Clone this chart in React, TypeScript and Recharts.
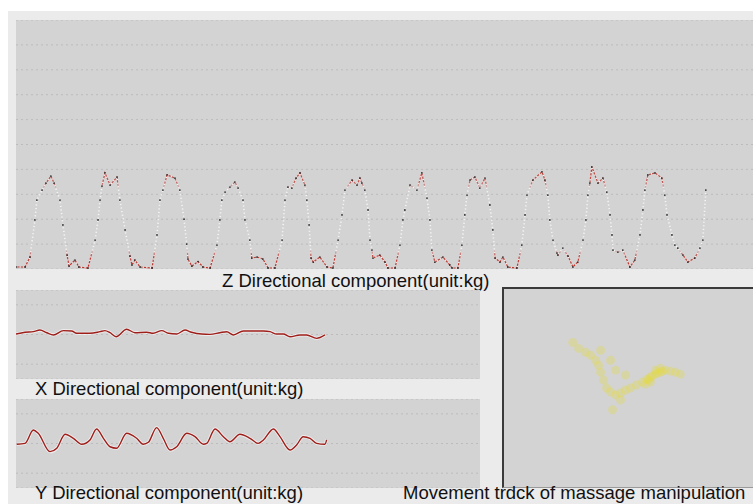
import React from "react";
import { LineChart, Line, XAxis, YAxis, ZAxis, CartesianGrid, ScatterChart, Scatter } from "recharts";

// Z directional component (time s, force kg)
const zTime = [
  0.0, 0.37, 0.57, 0.77, 0.85, 1.06, 1.22, 1.42, 1.55, 1.79, 1.91, 2.08, 2.16, 2.4, 2.56, 2.93,
  3.22, 3.34, 3.42, 3.5, 3.62, 3.83, 4.11, 4.23, 4.44, 4.64, 4.72, 4.84, 5.05, 5.54,
  5.74, 5.86, 5.98, 6.15, 6.47, 6.67, 6.84, 6.95, 7.0, 7.16, 7.41, 7.61, 7.9,
  8.18, 8.3, 8.38, 8.51, 8.71, 8.91, 9.04, 9.24, 9.32, 9.52, 9.6, 9.81, 10.05, 10.26, 10.54,
  10.83, 10.95, 11.07, 11.23, 11.4, 11.56, 11.76, 11.84, 11.93, 12.01, 12.1, 12.37, 12.66, 12.9,
  13.11, 13.27, 13.39, 13.68, 13.88, 14.0, 14.08, 14.2, 14.33, 14.41, 14.49, 14.53, 14.81, 15.02, 15.14, 15.43,
  15.63, 15.75, 15.83, 16.04, 16.32, 16.52, 16.73, 16.85, 16.93, 17.05, 17.38, 17.66, 17.75, 17.99,
  18.15, 18.27, 18.36, 18.48, 18.68, 18.88, 19.09, 19.29, 19.41, 19.5, 19.7, 19.82, 20.02, 20.39,
  20.59, 20.72, 20.8, 21.04, 21.41, 21.53, 21.65, 21.73, 21.86, 22.02, 22.06, 22.26, 22.47, 22.67, 22.87,
  23.08, 23.2, 23.28, 23.36, 23.44, 23.69, 23.89, 24.05, 24.18, 24.26, 24.3, 24.5, 24.7, 24.99, 25.19,
  25.4, 25.52, 25.6, 25.72, 26.01, 26.29, 26.41, 26.5, 26.7, 26.82, 26.94, 27.15, 27.35, 27.63, 27.84, 27.96, 28.08,
];
const zValue = [
  0.08, 0.08, 0.48, 1.97, 2.77, 3.17, 3.45, 3.73, 3.45, 2.77, 1.77, 0.56, 0.12, 0.36, 0.08, 0.04,
  1.16, 1.97, 2.77, 3.33, 3.86, 3.37, 3.69, 2.77, 1.57, 0.52, 0.16, 0.36, 0.08, 0.04,
  1.37, 2.77, 3.17, 3.78, 3.65, 3.17, 2.0, 1.0, 0.4, 0.12, 0.3, 0.08, 0.04,
  0.96, 1.97, 2.77, 3.09, 3.29, 3.49, 3.25, 2.77, 1.97, 1.16, 0.44, 0.48, 0.4, 0.04, 0.04,
  1.16, 2.77, 3.29, 3.25, 3.65, 3.86, 3.37, 2.77, 1.77, 0.44, 0.28, 0.48, 0.08, 0.04,
  1.16, 2.17, 3.17, 3.57, 3.37, 3.65, 3.45, 3.17, 2.37, 1.16, 0.76, 0.44, 0.56, 0.28, 0.04, 0.04,
  0.96, 1.97, 2.37, 3.37, 3.17, 3.86, 2.85, 1.97, 0.76, 0.28, 0.48, 0.16, 0.04, 0.04,
  0.96, 2.17, 2.97, 3.57, 3.69, 3.25, 3.65, 2.57, 1.57, 0.44, 0.28, 0.48, 0.08, 0.04,
  0.96, 2.17, 2.97, 3.57, 3.9, 3.57, 2.97, 1.97, 1.16, 0.64, 0.56, 0.84, 0.52, 0.08, 0.28,
  1.16, 1.97, 2.97, 3.45, 4.1, 3.45, 3.65, 3.09, 2.17, 1.37, 0.76, 0.68, 0.76, 0.08, 0.36,
  1.37, 2.37, 3.17, 3.78, 3.86, 3.65, 2.97, 2.17, 1.37, 0.96, 0.84, 0.56, 0.28, 0.44, 0.84, 1.16, 3.17,
];

// X directional component
const xTime = [
  0.0, 0.37, 0.71, 0.98, 1.26, 1.53, 1.94, 2.28, 2.48, 3.03, 3.44, 3.64, 3.85, 4.1, 4.53, 4.87,
  5.35, 5.62, 5.97, 6.24, 6.58, 6.92, 7.19, 7.6, 7.94, 8.35, 8.63, 8.9, 9.31, 10.13, 10.4, 10.68,
  10.95, 11.22, 11.63, 11.9, 12.31, 12.65,
];
const xValue = [
  0.03, 0.15, 0.19, 0.3, 0.12, -0.03, 0.26, 0.24, 0.08, 0.08, 0.19, 0.26, 0.12, -0.15, 0.35, 0.12,
  0.15, 0.08, 0.26, 0.08, 0.03, 0.3, 0.15, 0.03, 0.01, 0.12, 0.19, -0.03, 0.24, 0.24, 0.19, 0.03,
  0.03, -0.15, -0.03, -0.03, -0.26, -0.03,
];

// Y directional component
const yTime = [
  0.03, 0.37, 0.71, 0.91, 1.39, 1.67, 2.01, 2.35, 2.69, 3.03, 3.3, 3.58, 3.85, 4.12, 4.53, 4.94,
  5.21, 5.42, 5.76, 6.03, 6.31, 6.58, 6.99, 7.33, 7.67, 7.81, 8.15, 8.49, 8.76, 9.17, 9.58, 9.92,
  10.13, 10.54, 10.81, 11.22, 11.49, 11.76, 12.04, 12.31, 12.65, 12.72,
];
const yValue = [
  -0.05, 0.01, 0.91, 0.69, -0.55, -0.32, 0.62, 0.35, -0.05, 0.24, 0.98, 0.35, -0.22, -0.32, 0.69, 0.35,
  -0.05, 0.08, 1.07, 0.35, -0.44, -0.22, 0.69, 0.46, -0.05, 0.01, 0.98, 0.46, 0.12, 0.62, 0.35, 0.01,
  0.24, 0.98, 0.46, -0.44, -0.1, 0.46, 0.35, 0.01, -0.05, 0.24,
];

// Movement track (horizontal / vertical position)
const trackX = [
  27.6, 30, 32.8, 34.8, 36.8, 38, 38.8, 40, 41.2, 42.8, 44.8, 46.8, 48.8, 50.8, 53.2, 55.6, 58,
  58.8, 60.8, 62.8, 64.8, 66.8, 68.8, 70.8, 62.8, 60.8, 58.8, 56.8, 48.8, 44.8, 38.8, 42.8, 46.8, 43.6,
  59.5, 61.5, 57.5, 63.5,
];
const trackY = [
  73, 70, 68, 66.5, 64, 61.5, 58, 54, 50, 48, 46.5, 47.5, 49, 50, 51.5, 53, 54,
  55.5, 57, 58, 59, 58.5, 58, 57, 60, 59, 53, 52, 56.5, 59, 69, 64, 44, 39,
  56, 57.5, 54.5, 58.5,
];

const zTicks = [1, 2, 3, 4, 5, 6, 7, 8, 9];
const xyTicks = [-2, -1, 0, 1, 2];

const zData = zTime.map((t, i) => ({ t, v: zValue[i] }));
const xData = xTime.map((t, i) => ({ t, v: xValue[i] }));
const yData = yTime.map((t, i) => ({ t, v: yValue[i] }));
const trackData = trackX.map((x, i) => ({ x, y: trackY[i] }));

const FONT = '"Liberation Sans", Arial, sans-serif';
const PLOT_BG = "#d3d3d3";
const GRID = "#bcbcbc";

const labelStyle: React.CSSProperties = {
  position: "absolute",
  fontFamily: FONT,
  fontSize: 18.5,
  color: "#111",
  whiteSpace: "nowrap",
  lineHeight: "21px",
};

function SmallPanel({ data, top }: { data: { t: number; v: number }[]; top: number }) {
  return (
    <div style={{ position: "absolute", left: 16, top, width: 464, height: 89, background: PLOT_BG }}>
      <LineChart width={464} height={89} data={data} margin={{ top: 0, right: 0, bottom: 0, left: 0 }}>
        <XAxis dataKey="t" type="number" domain={[0, 19]} hide />
        <YAxis type="number" domain={[-3, 3]} ticks={xyTicks} hide />
        <CartesianGrid vertical={false} stroke={GRID} strokeDasharray="2 3" />
        <Line dataKey="v" type="monotone" stroke="#ffffff" strokeOpacity={0.6} strokeWidth={3.2} dot={false} isAnimationActive={false} />
        <Line dataKey="v" type="monotone" stroke="#9e1e1a" strokeWidth={1.4} dot={false} isAnimationActive={false} />
      </LineChart>
    </div>
  );
}

export default function App() {
  return (
    <div style={{ position: "absolute", left: 0, top: 0, width: 753, height: 504, background: "#ffffff", overflow: "hidden" }}>
      <div style={{ position: "absolute", left: 8, top: 11, width: 745, height: 493, background: "#ebebeb" }} />

      {/* Z panel */}
      <div style={{ position: "absolute", left: 16, top: 20, width: 737, height: 249, background: PLOT_BG }}>
        <LineChart width={737} height={249} data={zData} margin={{ top: 0, right: 0, bottom: 0, left: 0 }}>
          <defs>
            <linearGradient id="zRed" x1="0" y1="0" x2="0" y2="1">
              <stop offset="0" stopColor="#b8231c" stopOpacity={0.9} />
              <stop offset="0.15" stopColor="#b8231c" stopOpacity={0.7} />
              <stop offset="0.22" stopColor="#b8231c" stopOpacity={0} />
              <stop offset="0.82" stopColor="#b8231c" stopOpacity={0} />
              <stop offset="0.88" stopColor="#b8231c" stopOpacity={0.8} />
              <stop offset="1" stopColor="#b8231c" stopOpacity={0.9} />
            </linearGradient>
          </defs>
          <XAxis dataKey="t" type="number" domain={[0, 30]} hide />
          <YAxis type="number" domain={[0, 10]} ticks={zTicks} hide />
          <CartesianGrid vertical={false} stroke={GRID} strokeDasharray="2 3" />
          <Line dataKey="v" type="linear" stroke="url(#zRed)" strokeWidth={1.2} dot={false} isAnimationActive={false} />
          <Line
            dataKey="v"
            type="linear"
            stroke="#f7f3f3"
            strokeWidth={1.6}
            strokeDasharray="1.2 2.4"
            dot={{ r: 0.9, fill: "#2b2b2b", stroke: "none" }}
            isAnimationActive={false}
          />
        </LineChart>
      </div>
      <div style={{ ...labelStyle, left: 222, top: 270 }}>Z Directional component(unit:kg)</div>

      {/* X panel */}
      <SmallPanel data={xData} top={290} />
      <div style={{ ...labelStyle, left: 35, top: 378 }}>X Directional component(unit:kg)</div>

      {/* Y panel */}
      <SmallPanel data={yData} top={399} />
      <div style={{ ...labelStyle, left: 35, top: 482 }}>Y Directional component(unit:kg)</div>

      {/* Movement track panel */}
      <div
        style={{
          position: "absolute",
          left: 502,
          top: 287,
          width: 251,
          height: 201,
          background: PLOT_BG,
          borderTop: "2px solid #3a3a3a",
          borderLeft: "2px solid #3a3a3a",
          borderBottom: "1px solid #9a9a9a",
          boxSizing: "border-box",
        }}
      >
        <ScatterChart width={249} height={198} margin={{ top: 0, right: 0, bottom: 0, left: 0 }}>
          <XAxis dataKey="x" type="number" domain={[0, 100]} hide />
          <YAxis dataKey="y" type="number" domain={[0, 100]} hide />
          <ZAxis range={[7, 7]} />
          <Scatter data={trackData} fill="#e6dc3c" fillOpacity={0.3} shape="circle" isAnimationActive={false} />
        </ScatterChart>
      </div>
      <div style={{ ...labelStyle, left: 403, top: 482 }}>Movement trdck of massage manipulation</div>
    </div>
  );
}
